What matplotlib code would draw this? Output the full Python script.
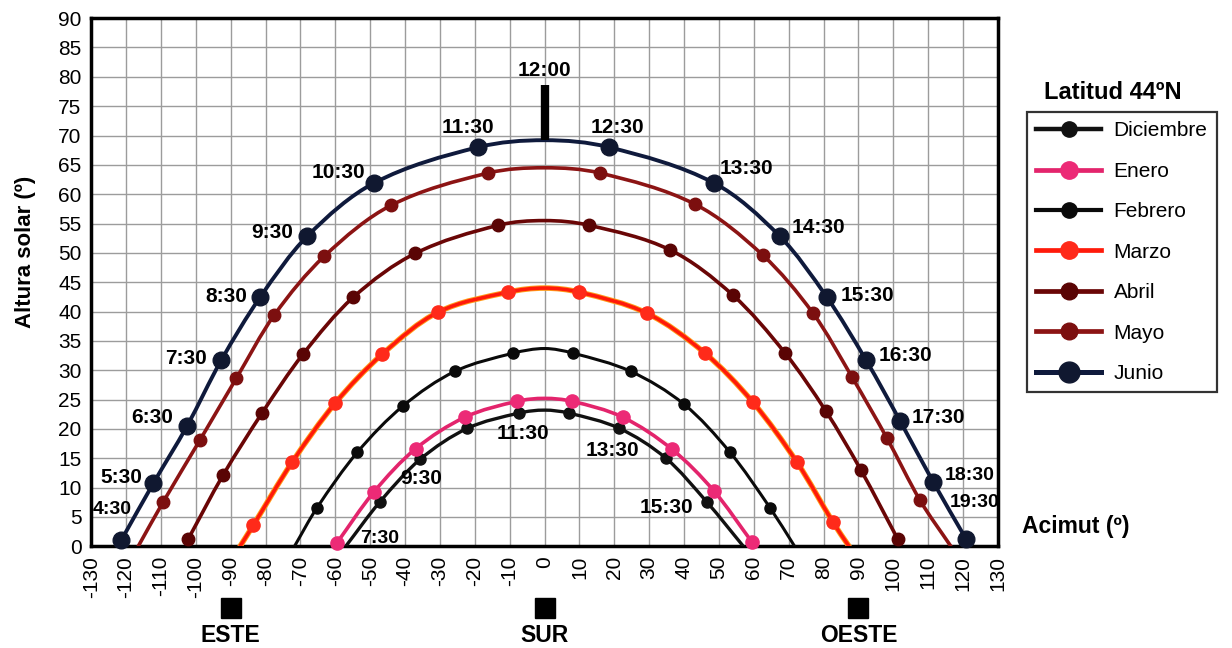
#!/usr/bin/env python3

# Carta solar cilíndrica para latitud 44ºN: altura solar frente a acimut,
# un arco por mes (diciembre a junio) con los puntos horarios marcados.

import numpy as np
import matplotlib
matplotlib.use("Agg")
import matplotlib.pyplot as plt
import matplotlib.patheffects as pe
from matplotlib.path import Path
from matplotlib.patches import PathPatch
from matplotlib.lines import Line2D
from matplotlib.transforms import blended_transform_factory

plt.rcParams['font.family'] = ['Liberation Sans', 'DejaVu Sans']
plt.rcParams['axes.unicode_minus'] = False

meses = ["Diciembre", "Enero", "Febrero", "Marzo", "Abril", "Mayo", "Junio"]

# puntos horarios marcados (xx:30), de la mañana a la tarde: acimut (º), altura (º)
dic_az = [-47.3, -35.7, -22.1, -7.3, 6.9, 21.4, 34.8, 46.6]
dic_alt = [7.5, 14.8, 20.1, 22.7, 22.7, 20.1, 15.0, 7.5]
ene_az = [-59.5, -49.0, -37.0, -22.8, -7.9, 7.9, 22.4, 36.6, 48.6, 59.5]
ene_alt = [0.6, 9.2, 16.6, 22.0, 24.7, 24.7, 22.0, 16.5, 9.4, 0.7]
feb_az = [-65.2, -53.7, -40.6, -25.7, -9.0, 8.2, 24.7, 40.0, 53.2, 64.6]
feb_alt = [6.6, 16.0, 23.9, 29.8, 32.9, 32.9, 29.8, 24.2, 16.0, 6.6]
mar_az = [-83.5, -72.4, -60.0, -46.6, -30.5, -10.5, 10.0, 29.4, 46.0, 59.8, 72.4, 82.7]
mar_alt = [3.6, 14.3, 24.4, 32.7, 39.9, 43.3, 43.3, 39.7, 32.9, 24.5, 14.3, 4.1]
abr_az = [-102.2, -92.2, -81.0, -69.3, -54.9, -37.1, -13.3, 12.8, 36.0, 54.0, 69.0, 80.7, 90.7, 101.3]
abr_alt = [1.2, 12.1, 22.7, 32.7, 42.4, 49.9, 54.7, 54.7, 50.5, 42.8, 32.9, 23.0, 13.0, 1.2]
may_az = [-109.4, -98.8, -88.4, -77.5, -63.2, -44.0, -16.2, 15.9, 43.1, 62.6, 77.0, 88.2, 98.2, 107.7]
may_alt = [7.5, 18.1, 28.6, 39.4, 49.4, 58.1, 63.6, 63.6, 58.3, 49.6, 39.7, 28.8, 18.4, 7.8]
jun_az = [-121.4, -112.2, -102.5, -92.7, -81.6, -68.1, -48.9, -19.1,
          18.5, 48.6, 67.5, 81.0, 92.2, 102.0, 111.4, 120.9]
jun_alt = [1.0, 10.7, 20.5, 31.7, 42.4, 52.8, 61.9, 68.0,
           68.0, 61.9, 52.8, 42.4, 31.7, 21.3, 11.0, 1.2]

# altura a mediodía (acimut 0) y acimut del orto/ocaso (altura 0) si se ve
mediodia = [23.2, 25.2, 33.7, 44.0, 55.5, 64.5, 69.2]
orto = [57.0, None, 71.7, 87.3, None, 116.5, None]

jun_horas = ["4:30", "5:30", "6:30", "7:30", "8:30", "9:30", "10:30", "11:30",
             "12:30", "13:30", "14:30", "15:30", "16:30", "17:30", "18:30", "19:30"]
dic_horas = ["7:30", "9:30", "11:30", "13:30", "15:30"]
dic_idx = [0, 1, 3, 5, 7]

puntos_card = ["ESTE", "SUR", "OESTE"]
acimut_card = [-90, 0, 90]

az_list = [dic_az, ene_az, feb_az, mar_az, abr_az, may_az, jun_az]
alt_list = [dic_alt, ene_alt, feb_alt, mar_alt, abr_alt, may_alt, jun_alt]

# estilos
line_col = ["#111111", "#e3246c", "#0a0a0a", "#ff1a0a", "#6a0606", "#8c1414", "#0f1a3c"]
mark_col = ["#111111", "#ec2a76", "#0a0a0a", "#ff2a1a", "#5a0404", "#7c0f0f", "#101830"]
lws = [2.4, 2.6, 2.2, 2.6, 2.6, 2.6, 2.8]
msz = [8, 9.5, 8, 9.5, 9, 9, 12]


def curva(az, alt, noon, rise):
    n = len(az) // 2
    x = list(az[:n]) + [0.0] + list(az[n:])
    y = list(alt[:n]) + [noon] + list(alt[n:])
    if rise is not None:
        x = [-rise] + x + [rise]
        y = [0.0] + y + [0.0]
    p = np.column_stack([x, y]).astype(float)
    m = len(p)
    tang = np.zeros_like(p)
    for i in range(m):
        d = p[min(i + 1, m - 1)] - p[max(i - 1, 0)]
        tang[i] = d / np.hypot(*d)
    verts = [p[0]]
    codes = [Path.MOVETO]
    for i in range(m - 1):
        L = np.hypot(*(p[i + 1] - p[i])) / 3.0
        verts += [p[i] + tang[i] * L, p[i + 1] - tang[i + 1] * L, p[i + 1]]
        codes += [Path.CURVE4] * 3
    return Path(verts, codes)


fig = plt.figure(figsize=(12.32, 6.48), dpi=100)
ax = fig.add_axes([0.074, 0.157, 0.736, 0.815])

ax.set_xlim(-130, 130)
ax.set_ylim(0, 90)
ax.set_xticks(np.arange(-130, 131, 10))
ax.set_yticks(np.arange(0, 91, 5))
ax.tick_params(length=0, pad=7, labelsize=15)
for lab in ax.get_xticklabels():
    lab.set_rotation(90)
ax.grid(True, color="#9c9c9c", lw=1.0)
ax.set_axisbelow(True)
for s in ax.spines.values():
    s.set_linewidth(2.5)
    s.set_color("black")

handles = []
for k in range(len(meses)):
    path = curva(az_list[k], alt_list[k], mediodia[k], orto[k])
    patch = PathPatch(path, facecolor="none", edgecolor=line_col[k], lw=lws[k],
                      capstyle="round", joinstyle="round", zorder=3 + k * 0.1)
    if meses[k] == "Marzo":
        patch.set_path_effects([pe.Stroke(linewidth=lws[k] + 1.4, foreground="#ff9c1a"),
                                pe.Normal()])
    ax.add_patch(patch)
    ax.plot(az_list[k], alt_list[k], "o", ms=msz[k], color=mark_col[k],
            mec=mark_col[k], zorder=4 + k * 0.1, clip_on=False)
    handles.append(Line2D([], [], color=line_col[k], lw=lws[k] + 0.8, marker="o",
                          ms=msz[k] + 3, mfc=mark_col[k], mec=mark_col[k]))

# etiquetas horarias de junio (desplazamiento en píxeles, alineación)
jun_off = [(-9, 31, "center"), (-11, 6, "right"), (-14, 8, "right"), (-14, 2, "right"),
           (-13, 1, "right"), (-14, 4, "right"), (-9, 11, "right"), (-10, 20, "center"),
           (8, 20, "center"), (6, 15, "left"), (12, 9, "left"), (14, 2, "left"),
           (13, 5, "left"), (11, 4, "left"), (12, 6, "left"), (-16, 37, "left")]
small = {"4:30", "18:30", "19:30"}
for i, h in enumerate(jun_horas):
    dx, dy, ha = jun_off[i]
    ax.annotate(h, (jun_az[i], jun_alt[i]), xytext=(dx, dy), textcoords="offset pixels",
                ha=ha, va="center", fontsize=14 if h in small else 15,
                fontweight="bold", zorder=6, annotation_clip=False)

dic_off = [(0, -36, "center"), (1, -19, "center"), (4, -20, "center"),
           (-7, -22, "center"), (-14, -5, "right")]
for j, h in enumerate(dic_horas):
    i = dic_idx[j]
    dx, dy, ha = dic_off[j]
    ax.annotate(h, (dic_az[i], dic_alt[i]), xytext=(dx, dy), textcoords="offset pixels",
                ha=ha, va="center", fontsize=14 if j == 0 else 15,
                fontweight="bold", zorder=6)

# marca de las 12:00 sobre el arco de junio
ax.vlines(0, mediodia[-1], mediodia[-1] + 9.4, color="black", lw=6, zorder=6)
ax.annotate("12:00", (0, mediodia[-1] + 9.4), xytext=(0, 5), textcoords="offset pixels",
            ha="center", va="bottom", fontsize=15, fontweight="bold")

# puntos cardinales bajo el eje
tr = blended_transform_factory(ax.transData, fig.transFigure)
ax.plot(acimut_card, [0.062] * 3, "s", ms=15, color="black", transform=tr, clip_on=False)
for a, nom in zip(acimut_card, puntos_card):
    ax.text(a, 0.02, nom, transform=tr, ha="center", va="center",
            fontsize=16.5, fontweight="bold")

fig.text(0.021, 0.611, "Altura solar (º)", rotation=90, ha="center", va="center",
         fontsize=16, fontweight="bold")
fig.text(0.8734, 0.187, "Acimut (º)", ha="center", va="center",
         fontsize=16.5, fontweight="bold")
fig.text(0.903, 0.858, "Latitud 44ºN", ha="center", va="center",
         fontsize=17, fontweight="bold")

leg = fig.legend(handles, meses, loc="upper left", bbox_to_anchor=(0.8336, 0.8272),
                 fontsize=15, frameon=True, fancybox=False, handlelength=3.1,
                 handletextpad=0.6, labelspacing=1.03, borderpad=0.45,
                 borderaxespad=0)
leg.get_frame().set_edgecolor("black")
leg.get_frame().set_linewidth(1.6)

fig.savefig("out.png", dpi=100)
